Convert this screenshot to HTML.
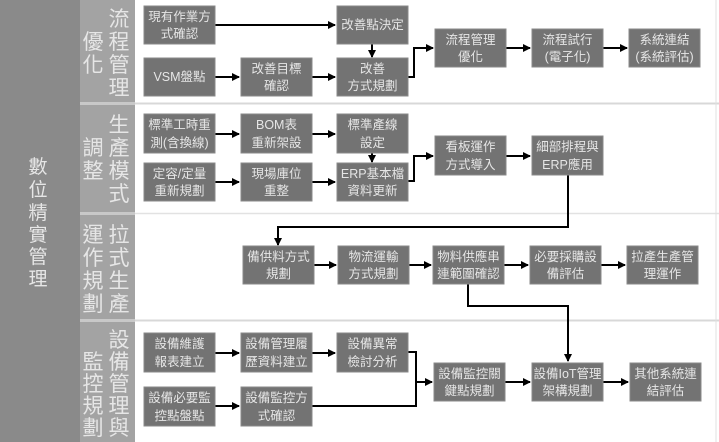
<!DOCTYPE html>
<html><head><meta charset="utf-8"><style>
body{margin:0;width:719px;height:442px;overflow:hidden;background:#fff}
svg{display:block}
text{font-family:"Liberation Sans","Noto Sans CJK TC",sans-serif;fill:#e6e6e6}
.b{fill:#737373;stroke:#8a8a8a;stroke-width:1}
.t{font-size:12.5px;text-anchor:middle}
.l{stroke:#000;stroke-width:2;fill:none}
.v{font-size:21px;text-anchor:middle;fill:#f0f0f0}
</style></head><body>
<svg width="719" height="442" viewBox="0 0 719 442">
<defs><marker id="a" markerWidth="8" markerHeight="8" refX="7" refY="4" orient="auto" markerUnits="userSpaceOnUse"><path d="M0,0L8,4L0,8z" fill="#000"/></marker></defs>
<rect x="0" y="0" width="80" height="442" fill="#8a8a8a"/>
<rect x="80" y="0" width="55" height="442" fill="#a3a3a3"/>
<rect x="80" y="102" width="55" height="3" fill="#c8c8c8"/>
<rect x="80" y="212" width="55" height="3" fill="#c8c8c8"/>
<rect x="80" y="319" width="55" height="3" fill="#c8c8c8"/>
<line x1="135" y1="103.5" x2="719" y2="103.5" stroke="#d8d8d8" stroke-width="2"/>
<line x1="135" y1="213.5" x2="719" y2="213.5" stroke="#e2e2e2" stroke-width="1.5"/>
<line x1="135" y1="320.5" x2="719" y2="320.5" stroke="#d8d8d8" stroke-width="2"/>
<line x1="716" y1="0" x2="716" y2="442" stroke="#e0e0e0" stroke-width="1"/>
<g class="v" style="font-size:19px">
<text x="38" y="173">數</text><text x="38" y="196">位</text><text x="38" y="219">精</text><text x="38" y="241">實</text><text x="38" y="263">管</text><text x="38" y="285">理</text>
</g>
<g class="v">
<text x="119" y="26">流</text><text x="119" y="49">程</text><text x="119" y="72">管</text><text x="119" y="95">理</text>
<text x="93" y="49">優</text><text x="93" y="72">化</text>
<text x="119" y="132">生</text><text x="119" y="155">產</text><text x="119" y="178">模</text><text x="119" y="201">式</text>
<text x="93" y="155">調</text><text x="93" y="178">整</text>
<text x="119" y="242">拉</text><text x="119" y="265">式</text><text x="119" y="288">生</text><text x="119" y="311">產</text>
<text x="93" y="242">運</text><text x="93" y="265">作</text><text x="93" y="288">規</text><text x="93" y="311">劃</text>
<text x="119" y="347">設</text><text x="119" y="369">備</text><text x="119" y="391">管</text><text x="119" y="413">理</text><text x="119" y="435">與</text>
<text x="93" y="369">監</text><text x="93" y="391">控</text><text x="93" y="413">規</text><text x="93" y="435">劃</text>
</g>
<g class="l">
<line x1="215" y1="25" x2="335" y2="25" marker-end="url(#a)"/>
<line x1="372" y1="44" x2="372" y2="57" marker-end="url(#a)"/>
<line x1="215" y1="77" x2="239" y2="77" marker-end="url(#a)"/>
<line x1="312" y1="77" x2="335" y2="77" marker-end="url(#a)"/>
<polyline points="408,77 414,77 414,48 433,48" marker-end="url(#a)"/>
<line x1="506" y1="48" x2="530" y2="48" marker-end="url(#a)"/>
<line x1="603" y1="48" x2="627" y2="48" marker-end="url(#a)"/>
<line x1="215" y1="134" x2="239" y2="134" marker-end="url(#a)"/>
<line x1="312" y1="134" x2="335" y2="134" marker-end="url(#a)"/>
<line x1="372" y1="153" x2="372" y2="162" marker-end="url(#a)"/>
<line x1="215" y1="182" x2="239" y2="182" marker-end="url(#a)"/>
<line x1="312" y1="182" x2="335" y2="182" marker-end="url(#a)"/>
<polyline points="408,181 414,181 414,156 433,156" marker-end="url(#a)"/>
<line x1="506" y1="156" x2="530" y2="156" marker-end="url(#a)"/>
<polyline points="568,175 568,227 278,227 278,245" marker-end="url(#a)"/>
<line x1="314" y1="265" x2="336" y2="265" marker-end="url(#a)"/>
<line x1="409" y1="265" x2="431" y2="265" marker-end="url(#a)"/>
<line x1="504" y1="265" x2="528" y2="265" marker-end="url(#a)"/>
<line x1="601" y1="265" x2="625" y2="265" marker-end="url(#a)"/>
<polyline points="468,284 468,306 568,306 568,361" marker-end="url(#a)"/>
<line x1="215" y1="353" x2="239" y2="353" marker-end="url(#a)"/>
<line x1="312" y1="353" x2="335" y2="353" marker-end="url(#a)"/>
<line x1="215" y1="406" x2="239" y2="406" marker-end="url(#a)"/>
<polyline points="408,352 416,352 416,406 312,406"/>
<line x1="416" y1="382" x2="432" y2="382" marker-end="url(#a)"/>
<line x1="505" y1="382" x2="530" y2="382" marker-end="url(#a)"/>
<line x1="603" y1="382" x2="628" y2="382" marker-end="url(#a)"/>
</g>
<g>
<rect class="b" x="144" y="6" width="71" height="38"/><text class="t" x="179.5" y="21">現有作業方</text><text class="t" x="179.5" y="38">式確認</text>
<rect class="b" x="337" y="6" width="71" height="38"/><text class="t" x="372.5" y="29">改善點決定</text>
<rect class="b" x="144" y="58" width="71" height="38"/><text class="t" x="179.5" y="81">VSM盤點</text>
<rect class="b" x="241" y="58" width="71" height="38"/><text class="t" x="276.5" y="73">改善目標</text><text class="t" x="276.5" y="90">確認</text>
<rect class="b" x="337" y="58" width="71" height="38"/><text class="t" x="372.5" y="73">改善</text><text class="t" x="372.5" y="90">方式規劃</text>
<rect class="b" x="435" y="29" width="71" height="38"/><text class="t" x="470.5" y="44">流程管理</text><text class="t" x="470.5" y="61">優化</text>
<rect class="b" x="532" y="29" width="71" height="38"/><text class="t" x="567.5" y="44">流程試行</text><text class="t" x="567.5" y="61">(電子化)</text>
<rect class="b" x="629" y="29" width="71" height="38"/><text class="t" x="664.5" y="44">系統連結</text><text class="t" x="664.5" y="61">(系統評估)</text>

<rect class="b" x="144" y="114" width="71" height="39"/><text class="t" x="179.5" y="129">標準工時重</text><text class="t" x="179.5" y="147">測(含換線)</text>
<rect class="b" x="241" y="114" width="71" height="39"/><text class="t" x="276.5" y="129">BOM表</text><text class="t" x="276.5" y="147">重新架設</text>
<rect class="b" x="337" y="114" width="71" height="39"/><text class="t" x="372.5" y="129">標準產線</text><text class="t" x="372.5" y="147">設定</text>
<rect class="b" x="144" y="163" width="71" height="38"/><text class="t" x="179.5" y="178">定容/定量</text><text class="t" x="179.5" y="195">重新規劃</text>
<rect class="b" x="241" y="163" width="71" height="38"/><text class="t" x="276.5" y="178">現場庫位</text><text class="t" x="276.5" y="195">重整</text>
<rect class="b" x="337" y="163" width="71" height="38"/><text class="t" x="372.5" y="178">ERP基本檔</text><text class="t" x="372.5" y="195">資料更新</text>
<rect class="b" x="435" y="136" width="71" height="39"/><text class="t" x="470.5" y="151">看板運作</text><text class="t" x="470.5" y="169">方式導入</text>
<rect class="b" x="532" y="136" width="71" height="39"/><text class="t" x="567.5" y="151">細部排程與</text><text class="t" x="567.5" y="169">ERP應用</text>

<rect class="b" x="243" y="246" width="71" height="38"/><text class="t" x="278.5" y="261">備供料方式</text><text class="t" x="278.5" y="278">規劃</text>
<rect class="b" x="338" y="246" width="71" height="38"/><text class="t" x="373.5" y="261">物流運輸</text><text class="t" x="373.5" y="278">方式規劃</text>
<rect class="b" x="433" y="246" width="71" height="38"/><text class="t" x="468.5" y="261">物料供應串</text><text class="t" x="468.5" y="278">連範圍確認</text>
<rect class="b" x="530" y="246" width="71" height="38"/><text class="t" x="565.5" y="261">必要採購設</text><text class="t" x="565.5" y="278">備評估</text>
<rect class="b" x="627" y="246" width="71" height="38"/><text class="t" x="662.5" y="261">拉產生產管</text><text class="t" x="662.5" y="278">理運作</text>

<rect class="b" x="144" y="333" width="71" height="39"/><text class="t" x="179.5" y="348">設備維護</text><text class="t" x="179.5" y="366">報表建立</text>
<rect class="b" x="241" y="333" width="71" height="39"/><text class="t" x="276.5" y="348">設備管理履</text><text class="t" x="276.5" y="366">歷資料建立</text>
<rect class="b" x="337" y="333" width="71" height="39"/><text class="t" x="372.5" y="348">設備異常</text><text class="t" x="372.5" y="366">檢討分析</text>
<rect class="b" x="144" y="387" width="71" height="39"/><text class="t" x="179.5" y="402">設備必要監</text><text class="t" x="179.5" y="420">控點盤點</text>
<rect class="b" x="241" y="387" width="71" height="39"/><text class="t" x="276.5" y="402">設備監控方</text><text class="t" x="276.5" y="420">式確認</text>
<rect class="b" x="434" y="363" width="71" height="38"/><text class="t" x="469.5" y="378">設備監控關</text><text class="t" x="469.5" y="395">鍵點規劃</text>
<rect class="b" x="532" y="363" width="71" height="38"/><text class="t" x="567.5" y="378">設備IoT管理</text><text class="t" x="567.5" y="395">架構規劃</text>
<rect class="b" x="630" y="363" width="71" height="38"/><text class="t" x="665.5" y="378">其他系統連</text><text class="t" x="665.5" y="395">結評估</text>
</g>
</svg>
</body></html>
